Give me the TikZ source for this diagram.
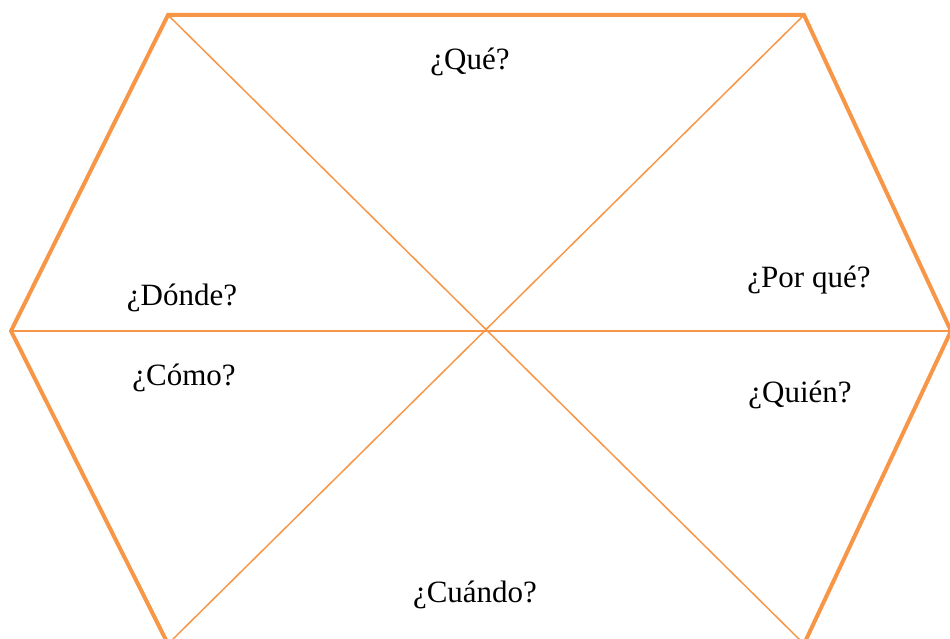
\documentclass[tikz,border=0pt]{standalone}
\usepackage{fontspec}
\setmainfont{Liberation Serif}
\usetikzlibrary{positioning}
\definecolor{hexorange}{RGB}{247,150,70}

\begin{document}
\begin{tikzpicture}[x=1pt,y=-1pt,
  rim/.style={draw=hexorange,line width=4pt,line join=miter},
  spoke/.style={draw=hexorange,line width=1.5pt},
  qlbl/.style={font=\fontsize{31}{35}\selectfont,anchor=base,inner sep=0pt}]
  \useasboundingbox (0,0) rectangle (950,639);
  \clip (0,0) rectangle (950,639);
  % ---- hexagon corners ----
  \coordinate (c)  at (487,331);
  \coordinate (tl) at (168,15);
  \coordinate (tr) at (804,15);
  \coordinate (r)  at (951,331);
  \coordinate (br) at (804,644);
  \coordinate (bl) at (168,644);
  \coordinate (l)  at (11,331);
  % ---- spokes ----
  \draw[spoke] (l) -- (r);
  \draw[spoke] (tl) -- (br);
  \draw[spoke] (tr) -- (bl);
  % ---- rim ----
  \draw[rim] (tl) -- (tr) -- (r) -- (br) -- (bl) -- (l) -- cycle;
  % ---- questions ----
  \node[qlbl] (que)    at (470,70)  {¿Qué?};
  \node[qlbl] (donde)  at (182,305) {¿Dónde?};
  \node[qlbl] (porque) at (809,287) {¿Por qué?};
  \node[qlbl] (como)   at (184,385) {¿Cómo?};
  \node[qlbl] (quien)  at (800,402) {¿Quién?};
  \node[qlbl] (cuando) at (475,602) {¿Cuándo?};
\end{tikzpicture}
\end{document}
